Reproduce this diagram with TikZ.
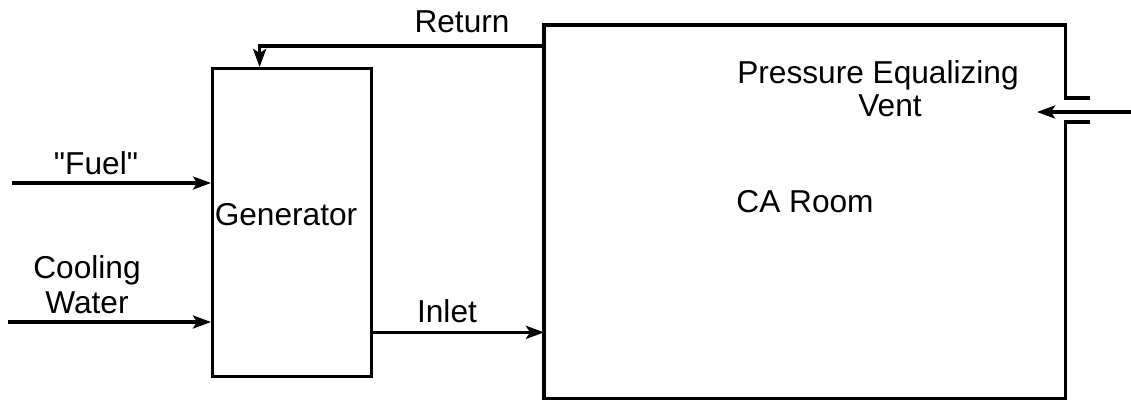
\documentclass[tikz,border=0pt]{standalone}
\usepackage{fontspec}
\setmainfont{Liberation Sans}
\usetikzlibrary{arrows.meta,positioning}
\tikzset{
  ar/.style={-{Stealth[length=1.8mm,width=1.3mm,inset=0.4mm]},line width=0.9pt},
  wall/.style={line width=0.9pt},
  box/.style={draw,line width=0.9pt,inner sep=0pt,font=\fontsize{9}{10}\selectfont},
  lbl/.style={font=\fontsize{9}{10}\selectfont,inner sep=1pt,align=center}
}

\begin{document}
\begin{tikzpicture}[x=0.01cm,y=-0.01cm]
\useasboundingbox (0,0) rectangle (1131,399);
% boxes
\node[box,minimum width=1.59cm,minimum height=3.08cm,anchor=north west] (gen) at (211,67) {};
\node[lbl] (genlbl) at (286,215) {Generator};
\node[minimum width=5.2cm,minimum height=3.72cm,inner sep=0pt,anchor=north west] (room) at (544,25) {};
\node[lbl] (roomlbl) at (805,202) {CA Room};
% room wall with vent gap
\coordinate (vu) at (1090,98);
\coordinate (vl) at (1090,122);
\draw[wall] (vu) -- (vu -| room.east) -- (room.north east) -- (room.north west)
  -- (room.south west) -- (room.south east) -- (vl -| room.east) -- (vl);
% flows
\coordinate (fuelsrc) at (12,183);
\coordinate (cwsrc) at (8,322);
\coordinate (ventsrc) at (1131,112);
\coordinate (venttip) at (1037,112);
\coordinate (retsrc) at (544,46);
\path (gen.south east) ++(0,-46) coordinate (inl);
\draw[ar] (fuelsrc) -- (fuelsrc -| gen.west);
\draw[ar] (cwsrc) -- (cwsrc -| gen.west);
\draw[ar] (inl) -- (inl -| room.west);
\draw[ar] (retsrc) -| ([xshift=-0.325cm]gen.north);
\draw[ar] (ventsrc) -- (venttip);
% labels
\node[lbl] (fuellbl) at (96,163) {\textquotedbl Fuel\textquotedbl};
\node[lbl] (cwlbl) at (87,285) {Cooling\\Water};
\node[lbl] (inllbl) at (447,311) {Inlet};
\node[lbl] (retlbl) at (462,22) {Return};
\node[lbl] (ventlbl) at (878,75) {Pressure Equalizing};
\node[lbl] (ventlbl2) at (890,106) {Vent};
\end{tikzpicture}
\end{document}
